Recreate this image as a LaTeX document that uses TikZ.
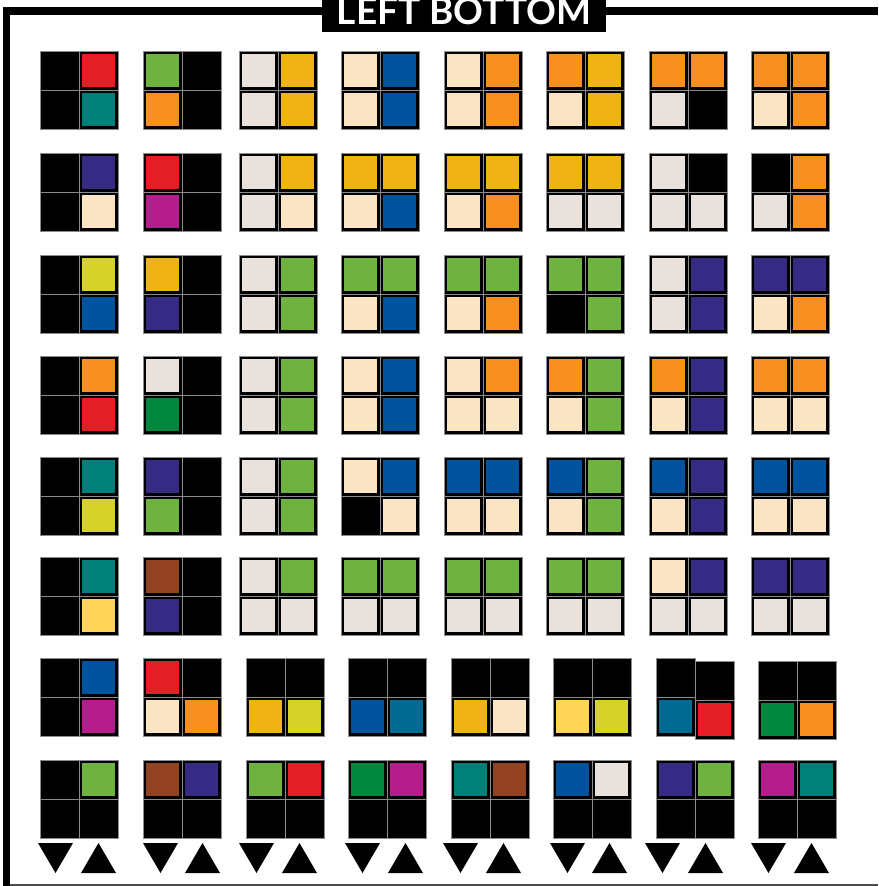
\documentclass[tikz,border=0pt]{standalone}
\usepackage{fontspec}
\newfontfamily\titlefont{Lato}
\usepackage{tikz}
\usetikzlibrary{calc}
\definecolor{cred}{HTML}{E31E24}
\definecolor{cteal}{HTML}{007F78}
\definecolor{cgreen}{HTML}{6FB23F}
\definecolor{corange}{HTML}{F7901F}
\definecolor{ccream}{HTML}{FAE4C4}
\definecolor{cgray}{HTML}{E9E2DC}
\definecolor{cgold}{HTML}{EFB414}
\definecolor{cblue}{HTML}{00539C}
\definecolor{cpurple}{HTML}{352B85}
\definecolor{cmagenta}{HTML}{B51D8C}
\definecolor{clime}{HTML}{D5D327}
\definecolor{cforest}{HTML}{00873E}
\definecolor{cbrown}{HTML}{924121}
\definecolor{cbutter}{HTML}{FED456}
\definecolor{cpetrol}{HTML}{016A93}
\tikzset{
  cellrim/.style ={draw=black, line width=2.8pt},
  cellgrid/.style={draw=black!45, line width=0.6pt},
  frame/.style   ={fill=black},
  arrowmark/.style={fill=black},
}
% one square of a tile: x, y, colour
\newcommand{\tcell}[3]{%
  \fill[#3] (#1,#2) rectangle ++(39,39);
  \draw[cellrim, shift={(#1,#2)}] (1.4,1.4) rectangle (37.6,37.6);
  \draw[cellgrid] (#1,#2) rectangle ++(39,39);
}
% a 2x2 tile: x, y, top left, top right, bottom left, bottom right
\newcommand{\colortile}[6]{%
  \tcell{#1}{#2}{#3}\tcell{#1+39}{#2}{#4}%
  \tcell{#1}{#2+39}{#5}\tcell{#1+39}{#2+39}{#6}%
}
\begin{document}
\begin{tikzpicture}[x=1pt, y=-1pt]
  \useasboundingbox (0,0) rectangle (878,886);
  % frame and title
  \fill[frame] (3,7) rectangle (10,886);
  \fill[frame] (3,7) rectangle (878,15);
  \draw[black!70, line width=1.5pt] (10,885) -- (878,885);
  \node[fill=black, minimum width=284pt, minimum height=44pt, anchor=south] (title) at (464,32) {};
  \node[text=white, font=\titlefont\bfseries\fontsize{37}{37}\selectfont, anchor=base] (titletext) at (464,24) {LEFT BOTTOM};
  % rows 1-6
  \foreach \x/\qa/\qb/\qc/\qd in {40/black/cred/black/cteal, 143/cgreen/black/corange/black,
      239/cgray/cgold/cgray/cgold, 341/ccream/cblue/ccream/cblue, 444/ccream/corange/ccream/corange,
      546/corange/cgold/ccream/cgold, 649/corange/corange/cgray/black, 751/corange/corange/ccream/corange}
    \colortile{\x}{51}{\qa}{\qb}{\qc}{\qd};
  \foreach \x/\qa/\qb/\qc/\qd in {40/black/cpurple/black/ccream, 143/cred/black/cmagenta/black,
      239/cgray/cgold/cgray/ccream, 341/cgold/cgold/ccream/cblue, 444/cgold/cgold/ccream/corange,
      546/cgold/cgold/cgray/cgray, 649/cgray/black/cgray/cgray, 751/black/corange/cgray/corange}
    \colortile{\x}{153}{\qa}{\qb}{\qc}{\qd};
  \foreach \x/\qa/\qb/\qc/\qd in {40/black/clime/black/cblue, 143/cgold/black/cpurple/black,
      239/cgray/cgreen/cgray/cgreen, 341/cgreen/cgreen/ccream/cblue, 444/cgreen/cgreen/ccream/corange,
      546/cgreen/cgreen/black/cgreen, 649/cgray/cpurple/cgray/cpurple, 751/cpurple/cpurple/ccream/corange}
    \colortile{\x}{255}{\qa}{\qb}{\qc}{\qd};
  \foreach \x/\qa/\qb/\qc/\qd in {40/black/corange/black/cred, 143/cgray/black/cforest/black,
      239/cgray/cgreen/cgray/cgreen, 341/ccream/cblue/ccream/cblue, 444/ccream/corange/ccream/ccream,
      546/corange/cgreen/ccream/cgreen, 649/corange/cpurple/ccream/cpurple, 751/corange/corange/ccream/ccream}
    \colortile{\x}{356}{\qa}{\qb}{\qc}{\qd};
  \foreach \x/\qa/\qb/\qc/\qd in {40/black/cteal/black/clime, 143/cpurple/black/cgreen/black,
      239/cgray/cgreen/cgray/cgreen, 341/ccream/cblue/black/ccream, 444/cblue/cblue/ccream/ccream,
      546/cblue/cgreen/ccream/cgreen, 649/cblue/cpurple/ccream/cpurple, 751/cblue/cblue/ccream/ccream}
    \colortile{\x}{457}{\qa}{\qb}{\qc}{\qd};
  \foreach \x/\qa/\qb/\qc/\qd in {40/black/cteal/black/cbutter, 143/cbrown/black/cpurple/black,
      239/cgray/cgreen/cgray/cgray, 341/cgreen/cgreen/cgray/cgray, 444/cgreen/cgreen/cgray/cgray,
      546/cgreen/cgreen/cgray/cgray, 649/ccream/cpurple/cgray/cgray, 751/cpurple/cpurple/cgray/cgray}
    \colortile{\x}{557}{\qa}{\qb}{\qc}{\qd};
  % rows 7-8
  \foreach \x/\y/\qa/\qb/\qc/\qd in {40/658/black/cblue/black/cmagenta, 143/658/cred/black/ccream/corange,
      246/658/black/black/cgold/clime, 348/658/black/black/cblue/cpetrol, 451/658/black/black/cgold/ccream,
      553/658/black/black/cbutter/clime, 758/661/black/black/cforest/corange}
    \colortile{\x}{\y}{\qa}{\qb}{\qc}{\qd};
  \tcell{656}{658}{black}\tcell{656}{697}{cpetrol}
  \tcell{695}{661}{black}\tcell{695}{700}{cred}
  \foreach \x/\qa/\qb/\qc/\qd in {40/black/cgreen/black/black, 143/cbrown/cpurple/black/black,
      246/cgreen/cred/black/black, 348/cforest/cmagenta/black/black, 451/cteal/cbrown/black/black,
      553/cblue/cgray/black/black, 656/cpurple/cgreen/black/black, 758/cmagenta/cteal/black/black}
    \colortile{\x}{760}{\qa}{\qb}{\qc}{\qd};
  % down and up marks
  \foreach \dx/\ux in {38/81, 143/185, 239/282, 345/388, 443/486, 550/592, 645/688, 751/794} {
    \fill[arrowmark] (\dx,843) -- (\dx+35,843) -- (\dx+17.5,873) -- cycle;
    \fill[arrowmark] (\ux,873) -- (\ux+35,873) -- (\ux+17.5,843) -- cycle;
  }
\end{tikzpicture}
\end{document}
